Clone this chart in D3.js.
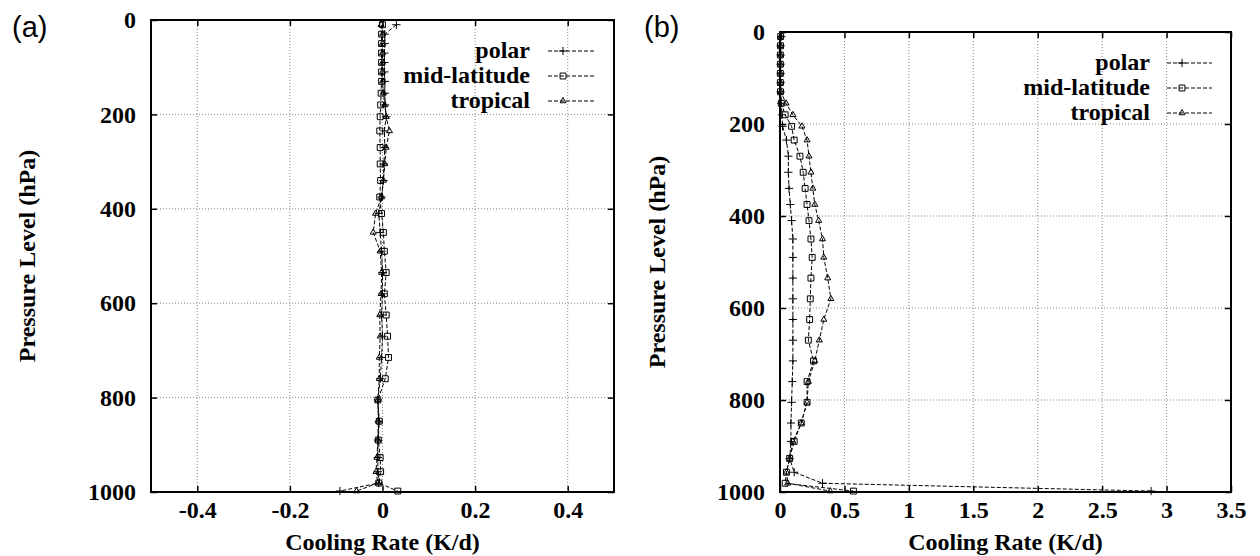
<!DOCTYPE html>
<html>
<head>
<meta charset="utf-8">
<script src="https://cdn.jsdelivr.net/npm/d3@7"></script>
<style>
  body { margin: 0; background: #fff; }
  svg { display: block; }
</style>
</head>
<body>
<svg id="chart" width="1260" height="556"></svg>
<script>
// pressure levels (hPa) shared by both panels
const levels = [10, 30, 50, 70, 90, 110, 130, 155, 180, 205, 235, 270, 305, 340, 375, 410, 450, 490,
                535, 580, 625, 670, 715, 760, 805, 850, 890, 927, 957, 981, 998];

// panel (a) cooling rate differences (K/d)
const polarA = [0.03, 0.005, 0.005, 0.004, 0.004, 0.004, 0.005, 0.005, 0.006, 0.008, 0.004, 0.005, 0.003, 0.002,
                -0.002, -0.008, -0.005, -0.002, 0.0, 0.0, -0.002, 0.0, -0.002, -0.005, -0.01, -0.008, -0.01,
                -0.01, -0.01, -0.008, -0.092];
const midA = [0.0, -0.002, -0.002, -0.002, -0.002, -0.002, -0.002, -0.003, -0.004, -0.005, -0.006, -0.005, -0.005,
              -0.004, -0.006, -0.002, 0.002, 0.004, 0.008, 0.004, 0.008, 0.011, 0.013, 0.006, -0.01, -0.007,
              -0.009, -0.005, -0.004, -0.008, 0.033];
const tropA = [-0.003, 0.0, 0.0, 0.0, 0.0, 0.0, 0.0, 0.002, 0.005, 0.008, 0.015, 0.008, 0.005, 0.002, -0.002,
               -0.015, -0.02, -0.005, -0.002, -0.003, -0.006, -0.005, -0.007, -0.007, -0.01, -0.009, -0.01,
               -0.012, -0.014, -0.01, -0.056];

// panel (b) cooling rates (K/d)
const polarB = [0.01, 0.005, 0.005, 0.005, 0.005, 0.005, 0.005, 0.01, 0.015, 0.02, 0.05, 0.065, 0.065, 0.07,
                0.08, 0.09, 0.10, 0.10, 0.10, 0.10, 0.10, 0.10, 0.10, 0.095, 0.09, 0.085, 0.085, 0.075, 0.11,
                0.33, 2.88];
const midB = [0.005, 0.004, 0.003, 0.003, 0.003, 0.003, 0.004, 0.01, 0.04, 0.09, 0.11, 0.155, 0.18, 0.195,
              0.21, 0.225, 0.24, 0.25, 0.24, 0.235, 0.23, 0.22, 0.26, 0.21, 0.21, 0.165, 0.11, 0.075, 0.05,
              0.04, 0.57];
const tropB = [0.005, 0.004, 0.003, 0.003, 0.003, 0.004, 0.006, 0.047, 0.10, 0.17, 0.21, 0.225, 0.24, 0.255,
               0.27, 0.30, 0.33, 0.34, 0.37, 0.395, 0.34, 0.305, 0.27, 0.22, 0.21, 0.165, 0.10, 0.075, 0.05,
               0.06, 0.39];

const seriesNames = ['polar', 'mid-latitude', 'tropical'];
const yTicks = [0, 200, 400, 600, 800, 1000];
const xTicksA = [-0.4, -0.2, 0, 0.2, 0.4];
const xTicksB = [0, 0.5, 1, 1.5, 2, 2.5, 3, 3.5];

const serif = '"Liberation Serif", "Times New Roman", serif';
const svg = d3.select('#chart');

// marker shapes for each series
const symbols = [
    d3.symbol().type(d3.symbolPlus).size(24),
    d3.symbol().type(d3.symbolSquare2).size(44),
    d3.symbol().type(d3.symbolTriangle2).size(26)
];

const panels = [
    { tag: '(a)', tagX: 12, tagY: 37, left: 151, right: 614, top: 20, bottom: 492,
      xDomain: [-0.5, 0.5], xTicks: xTicksA, series: [polarA, midA, tropA],
      titleX: 35, legendRight: 530, legendLine: [548, 595], legendY: 51 },
    { tag: '(b)', tagX: 644, tagY: 37, left: 780, right: 1231, top: 32, bottom: 492,
      xDomain: [0, 3.5], xTicks: xTicksB, series: [polarB, midB, tropB],
      titleX: 665, legendRight: 1150, legendLine: [1167, 1212], legendY: 63 }
];

panels.forEach(p => {
    const g = svg.append('g');

    const x = d3.scaleLinear().domain(p.xDomain).range([p.left, p.right]);
    const y = d3.scaleLinear().domain([0, 1000]).range([p.top, p.bottom]);

    // dotted grid at inner major ticks
    g.append('g').selectAll('line')
        .data(p.xTicks.filter(t => t > p.xDomain[0] && t < p.xDomain[1]))
        .join('line')
        .attr('x1', d => x(d)).attr('x2', d => x(d))
        .attr('y1', p.top).attr('y2', p.bottom)
        .style('stroke', '#8a8a8a').style('stroke-width', 1).style('stroke-dasharray', '1,2');
    g.append('g').selectAll('line')
        .data(yTicks.filter(t => t > 0 && t < 1000))
        .join('line')
        .attr('x1', p.left).attr('x2', p.right)
        .attr('y1', d => y(d)).attr('y2', d => y(d))
        .style('stroke', '#8a8a8a').style('stroke-width', 1).style('stroke-dasharray', '1,2');

    // axes, ticks pointing inward on all four sides
    const styleAxis = sel => {
        sel.select('.domain').remove();
        sel.selectAll('line').style('stroke', '#000').style('stroke-width', 1.5);
        sel.selectAll('text').attr('font-family', serif).attr('font-weight', 'bold')
            .attr('font-size', 24).attr('fill', '#000');
    };
    g.append('g').attr('transform', 'translate(0,' + p.bottom + ')')
        .call(d3.axisBottom(x).tickValues(p.xTicks).tickSizeInner(-6).tickSizeOuter(0)
            .tickPadding(9).tickFormat(d => String(d)))
        .call(styleAxis);
    g.append('g').attr('transform', 'translate(0,' + p.top + ')')
        .call(d3.axisTop(x).tickValues(p.xTicks).tickSizeInner(-6).tickSizeOuter(0).tickFormat(''))
        .call(styleAxis);
    g.append('g').attr('transform', 'translate(' + p.left + ',0)')
        .call(d3.axisLeft(y).tickValues(yTicks).tickSizeInner(-6).tickSizeOuter(0)
            .tickPadding(15).tickFormat(d => String(d)))
        .call(styleAxis);
    g.append('g').attr('transform', 'translate(' + p.right + ',0)')
        .call(d3.axisRight(y).tickValues(yTicks).tickSizeInner(-6).tickSizeOuter(0).tickFormat(''))
        .call(styleAxis);

    // border box
    g.append('rect')
        .attr('x', p.left).attr('y', p.top)
        .attr('width', p.right - p.left).attr('height', p.bottom - p.top)
        .style('fill', 'none').style('stroke', '#000').style('stroke-width', 2);

    // series lines and markers
    const line = d3.line()
        .x(d => x(d.v))
        .y(d => y(d.p));

    p.series.forEach((vals, i) => {
        const data = levels.map((lev, k) => ({ p: lev, v: vals[k] }));
        g.append('path')
            .datum(data)
            .attr('d', line)
            .style('fill', 'none')
            .style('stroke', '#000')
            .style('stroke-width', 1)
            .style('stroke-dasharray', '4,2');
        g.append('g').selectAll('path')
            .data(data)
            .join('path')
            .attr('transform', d => 'translate(' + x(d.v) + ',' + y(d.p) + ')')
            .attr('d', symbols[i])
            .style('fill', 'none')
            .style('stroke', '#000')
            .style('stroke-width', 1);
    });

    // legend
    seriesNames.forEach((name, i) => {
        const ly = p.legendY + i * 25;
        g.append('text')
            .attr('x', p.legendRight).attr('y', ly + 7)
            .attr('text-anchor', 'end')
            .attr('font-family', serif).attr('font-weight', 'bold').attr('font-size', 24)
            .text(name);
        g.append('line')
            .attr('x1', p.legendLine[0]).attr('x2', p.legendLine[1])
            .attr('y1', ly).attr('y2', ly)
            .style('stroke', '#000').style('stroke-width', 1).style('stroke-dasharray', '4,2');
        g.append('path')
            .attr('transform', 'translate(' + (p.legendLine[0] + 15) + ',' + ly + ')')
            .attr('d', symbols[i])
            .style('fill', 'none').style('stroke', '#000').style('stroke-width', 1);
    });

    // axis titles
    g.append('text')
        .attr('x', (p.left + p.right) / 2).attr('y', 550)
        .attr('text-anchor', 'middle')
        .attr('font-family', serif).attr('font-weight', 'bold').attr('font-size', 24)
        .text('Cooling Rate (K/d)');
    g.append('text')
        .attr('transform', 'translate(' + p.titleX + ',' + (p.top + p.bottom) / 2 + ') rotate(-90)')
        .attr('text-anchor', 'middle')
        .attr('font-family', serif).attr('font-weight', 'bold').attr('font-size', 24)
        .text('Pressure Level (hPa)');

    // panel tag
    g.append('text')
        .attr('x', p.tagX).attr('y', p.tagY)
        .attr('font-family', '"Liberation Sans", Arial, sans-serif').attr('font-size', 29)
        .text(p.tag);
});
</script>
</body>
</html>
